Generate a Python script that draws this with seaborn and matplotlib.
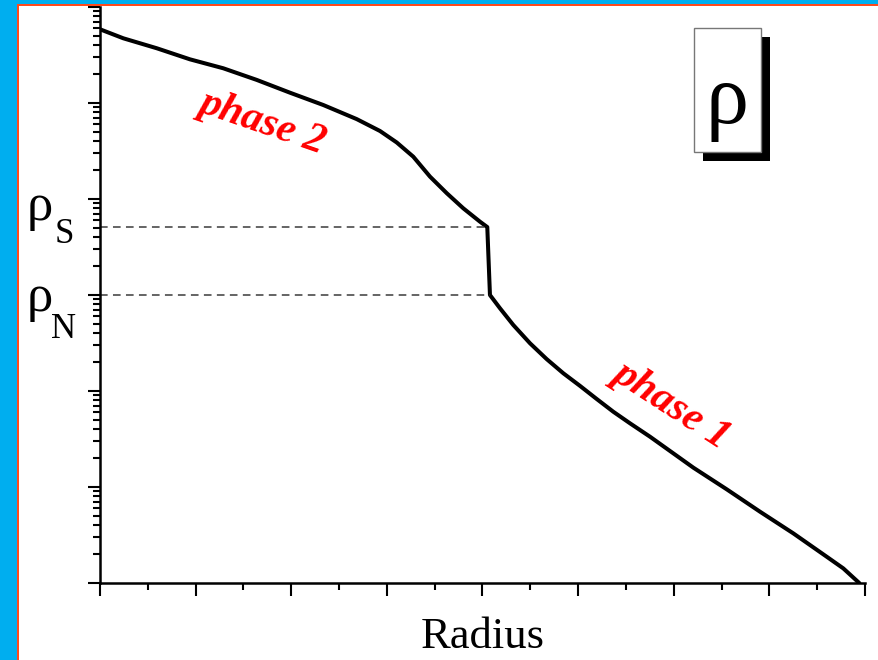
import matplotlib
matplotlib.use("Agg")
import matplotlib.pyplot as plt
from matplotlib.patches import Rectangle
from matplotlib.ticker import LogLocator, MultipleLocator, NullFormatter
import numpy as np
import pandas as pd
import seaborn as sns

# Density profile along the radius (log scale)
radius = [0.000, 0.244, 0.593, 0.941, 1.289, 1.639, 1.987, 2.335, 2.684, 2.928,
          3.103, 3.276, 3.451, 3.626, 3.799, 3.974, 4.050, 4.078, 4.183, 4.322,
          4.497, 4.671, 4.845, 5.020, 5.194, 5.368, 5.542, 5.752, 6.205,
          6.554, 6.902, 7.250, 7.599, 7.773, 7.940]
density = [586000, 472000, 372000, 285000, 230000, 174000, 128000, 95300, 68000, 51100,
           38800, 27600, 17100, 11500, 8000, 5800, 5100, 1000, 727, 487,
           314, 215, 153, 113, 82.6, 60.8, 46.1, 33.4, 15.9,
           9.46, 5.53, 3.29, 1.88, 1.42, 1.0]

rho_S = 5100     # upper edge of the phase transition
rho_N = 1000     # lower edge of the phase transition
r_S = 4.050
r_N = 4.078

phase_labels = ["phase 2", "phase 1"]
phase_pos = [(1.70, 63000), (5.98, 71.5)]
phase_rot = [-19, -33]

df = pd.DataFrame({"Radius": radius, "rho": density})

sns.set_style("ticks")
plt.rcParams["font.family"] = ["Liberation Serif", "DejaVu Serif"]
plt.rcParams["text.color"] = "black"
plt.rcParams["axes.labelcolor"] = "black"

W, H = 879, 660
fig = plt.figure(figsize=(W / 100, H / 100), dpi=100)
fig.patch.set_facecolor("white")
ax = fig.add_axes([100 / W, 1 - 583 / H, 765 / W, 576 / H])

sns.lineplot(data=df, x="Radius", y="rho", ax=ax, color="black", lw=2.9,
             estimator=None, sort=False, solid_joinstyle="round",
             solid_capstyle="round")

ax.set_yscale("log")
ax.set_xlim(0, 8)
ax.set_ylim(1, 1e6)

# dashed guides to the transition densities
ax.plot([0, r_S], [rho_S, rho_S], color="#3a3a3a", lw=1.1, dashes=(5, 3.5))
ax.plot([0, r_N], [rho_N, rho_N], color="#3a3a3a", lw=1.1, dashes=(5, 3.5))

# axes styling
for s in ["top", "right"]:
    ax.spines[s].set_visible(False)
for s in ["left", "bottom"]:
    ax.spines[s].set_linewidth(1.8)
    ax.spines[s].set_color("black")

ax.xaxis.set_major_locator(MultipleLocator(1))
ax.xaxis.set_minor_locator(MultipleLocator(0.5))
ax.yaxis.set_major_locator(LogLocator(base=10, numticks=20))
ax.yaxis.set_minor_locator(LogLocator(base=10, subs=np.arange(2, 10), numticks=100))
for axis in (ax.xaxis, ax.yaxis):
    axis.set_major_formatter(NullFormatter())
    axis.set_minor_formatter(NullFormatter())
ax.tick_params(which="major", direction="out", length=9, width=1.5, color="black")
ax.tick_params(which="minor", direction="out", length=5, width=1.5, color="black")

ax.set_ylabel("")
ax.set_xlabel("Radius", fontsize=32, labelpad=12)

# transition density labels on the y axis: symbol plus subscript
ytrans = ax.get_yaxis_transform()
for val, sub, dy_rho, dy_sub in [(rho_S, "S", 7, -16), (rho_N, "N", -16, -43)]:
    ax.annotate("ρ", xy=(0, val), xycoords=ytrans, xytext=(-60, dy_rho),
                textcoords="offset pixels", fontsize=38, ha="center",
                va="baseline", annotation_clip=False)
    ax.annotate(sub, xy=(0, val), xycoords=ytrans, xytext=(-36, dy_sub),
                textcoords="offset pixels", fontsize=25, ha="center",
                va="baseline", annotation_clip=False)

# phase annotations
for lab, (px, py), rot in zip(phase_labels, phase_pos, phase_rot):
    ax.text(px, py, lab, color="red", fontsize=30, fontweight="bold",
            fontstyle="italic", rotation=rot, ha="center", va="center",
            rotation_mode="anchor")

# boxed quantity label with drop shadow
fig.patches.append(Rectangle((703 / W, 1 - 161 / H), 67 / W, 124 / H,
                             transform=fig.transFigure, facecolor="black",
                             edgecolor="none", zorder=5))
fig.patches.append(Rectangle((694 / W, 1 - 152 / H), 67 / W, 124 / H,
                             transform=fig.transFigure, facecolor="white",
                             edgecolor="#777777", lw=1.0, zorder=6))
fig.text(727.5 / W, 1 - 123 / H, "ρ", fontsize=62, ha="center",
         va="baseline", zorder=7)

# slide frame
fig.patches.append(Rectangle((0, 0), 17 / W, 1, transform=fig.transFigure,
                             facecolor="#00AEEF", edgecolor="none", zorder=8))
fig.patches.append(Rectangle((0, 1 - 4 / H), 1, 4 / H, transform=fig.transFigure,
                             facecolor="#00AEEF", edgecolor="none", zorder=8))
fig.patches.append(Rectangle((17 / W, 0), 2 / W, 1 - 4 / H, transform=fig.transFigure,
                             facecolor="#FF4A1C", edgecolor="none", zorder=8))
fig.patches.append(Rectangle((17 / W, 1 - 6 / H), 1, 2 / H, transform=fig.transFigure,
                             facecolor="#FF4A1C", edgecolor="none", zorder=8))

fig.savefig("out.png", dpi=100)
